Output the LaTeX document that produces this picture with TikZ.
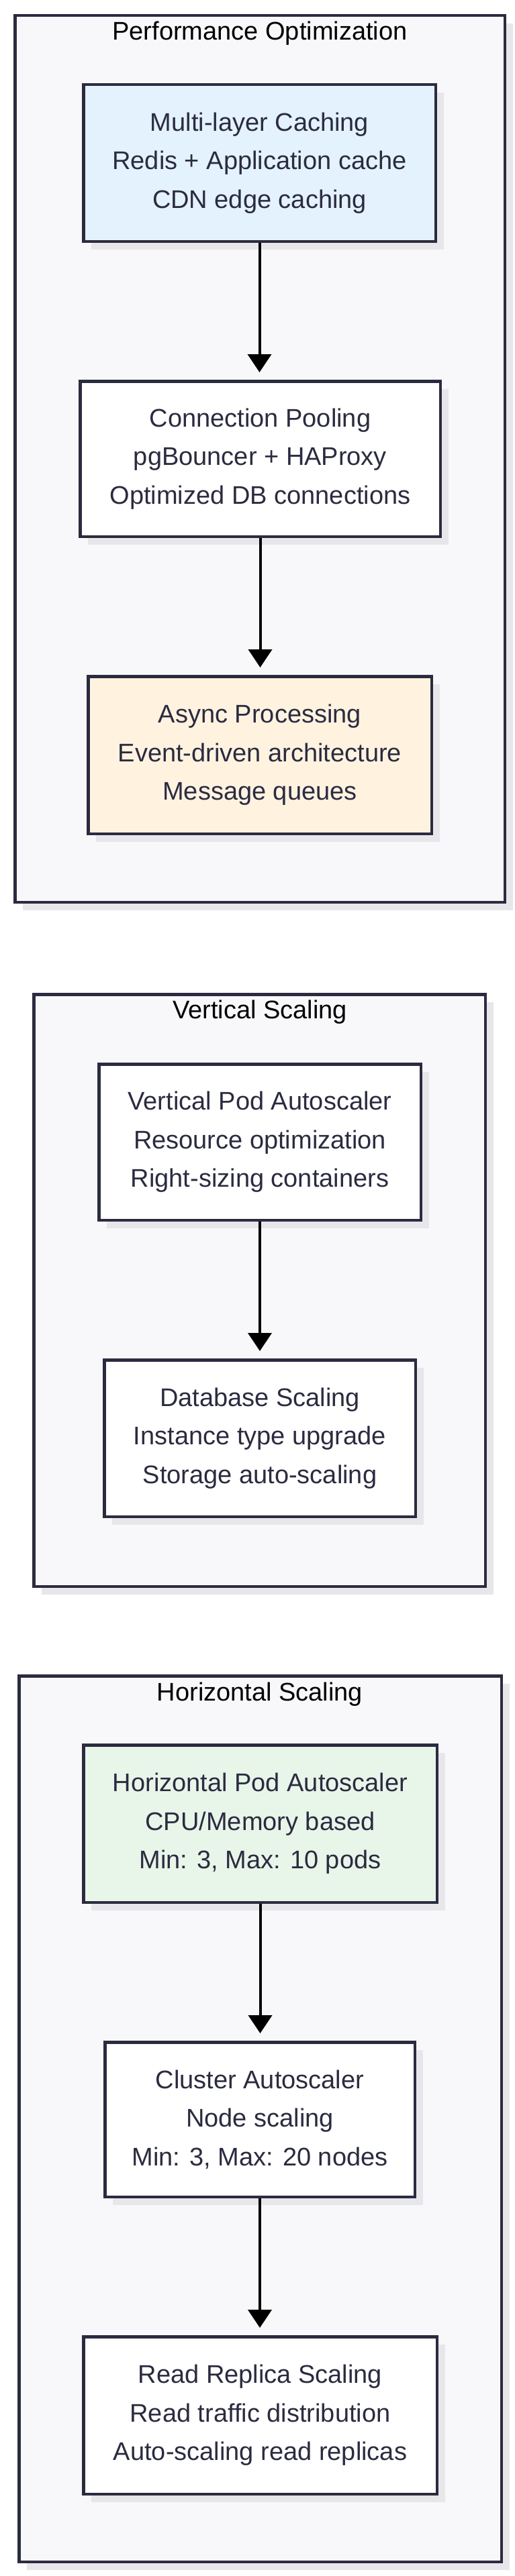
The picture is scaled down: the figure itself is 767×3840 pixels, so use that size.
\documentclass[tikz,border=0pt]{standalone}
\usepackage{fontspec}
\setmainfont{Liberation Sans}
\usetikzlibrary{arrows.meta,shadows}
\definecolor{bordc}{HTML}{2B2B40}
\definecolor{txtc}{HTML}{2B2B40}
\definecolor{framefill}{HTML}{F8F8FA}
\definecolor{shadowc}{HTML}{E7E7EB}
\definecolor{bluefill}{HTML}{E3F2FD}
\definecolor{orangefill}{HTML}{FFF3E0}
\definecolor{greenfill}{HTML}{E8F5E9}
\tikzset{
  shd/.style={drop shadow={shadow xshift=12pt, shadow yshift=-12pt, fill=shadowc, opacity=1}},
  frame/.style={draw=bordc, line width=4.5pt, fill=framefill, shd, inner sep=0pt},
  box/.style={draw=bordc, line width=4.5pt, fill=white, shd, align=center, text=txtc,
    font=\fontsize{38}{57.5}\selectfont, inner sep=0pt},
  ttl/.style={text=black, font=\fontsize{38}{46}\selectfont, inner sep=0pt},
  arr/.style={draw=black, line width=4pt, -{Triangle[width=35pt,length=27pt]}, shorten >=11pt}
}
\begin{document}
\begin{tikzpicture}[x=1pt,y=-1pt]
\useasboundingbox (0,0) rectangle (767,3840);
% Performance Optimization
\node[frame, minimum width=729.5pt, minimum height=1321.5pt] (fp) at (387,684) {};
\node[ttl] (tp) at (387,50) {Performance Optimization};
\node[box, fill=bluefill, minimum width=524.5pt, minimum height=233.5pt] (b1) at (386.5,243)
  {Multi-layer Caching\\Redis + Application cache\\CDN edge caching};
\node[box, minimum width=536.5pt, minimum height=231.5pt] (b2) at (387.5,684)
  {Connection Pooling\\pgBouncer + HAProxy\\Optimized DB connections};
\node[box, fill=orangefill, minimum width=511.5pt, minimum height=234.5pt] (b3) at (387,1125.5)
  {Async Processing\\Event-driven architecture\\Message queues};
\draw[arr] (b1.south) -- (b1.south |- b2.north);
\draw[arr] (b2.south) -- (b2.south |- b3.north);
% Vertical Scaling
\node[frame, minimum width=672.5pt, minimum height=882.5pt] (fv) at (386.5,1923.5) {};
\node[ttl] (tv) at (387,1509) {Vertical Scaling};
\node[box, minimum width=479.5pt, minimum height=232.5pt] (v1) at (387,1702.5)
  {Vertical Pod Autoscaler\\Resource optimization\\Right-sizing containers};
\node[box, minimum width=463.5pt, minimum height=233.5pt] (v2) at (387,2144)
  {Database Scaling\\Instance type upgrade\\Storage auto-scaling};
\draw[arr] (v1.south) -- (v1.south |- v2.north);
% Horizontal Scaling
\node[frame, minimum width=718.5pt, minimum height=1320.5pt] (fh) at (387.5,3158.5) {};
\node[ttl] (th) at (387,2526) {Horizontal Scaling};
\node[box, fill=greenfill, minimum width=526.5pt, minimum height=234.5pt] (h1) at (387.5,2718.5)
  {Horizontal Pod Autoscaler\\CPU/Memory based\\Min: 3, Max: 10 pods};
\node[box, minimum width=461.5pt, minimum height=230.5pt] (h2) at (387,3159.5)
  {Cluster Autoscaler\\Node scaling\\Min: 3, Max: 20 nodes};
\node[box, minimum width=526.5pt, minimum height=234.5pt] (h3) at (387.5,3600.5)
  {Read Replica Scaling\\Read traffic distribution\\Auto-scaling read replicas};
\draw[arr] (h1.south) -- (h1.south |- h2.north);
\draw[arr] (h2.south) -- (h2.south |- h3.north);
\end{tikzpicture}
\end{document}
